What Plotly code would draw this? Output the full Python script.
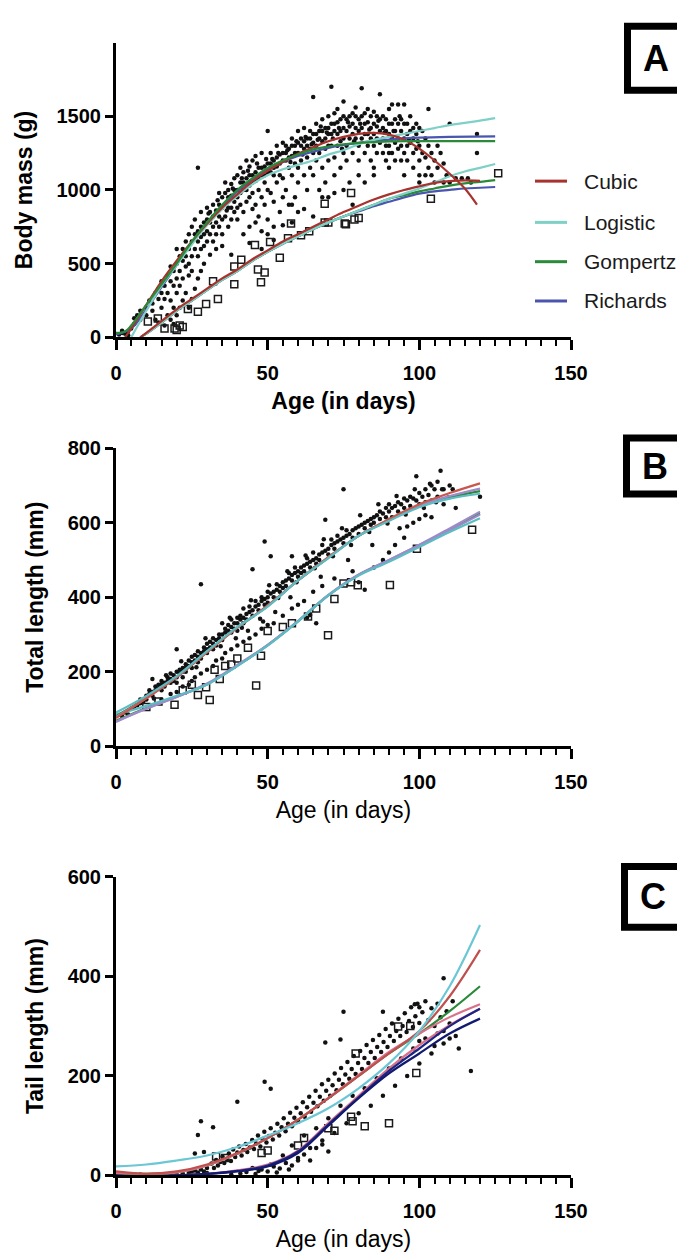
import plotly.graph_objects as go

# ------------------------------------------------------------------ data
# Panel A : body mass (g)
A_dots = [(1,20),(2,30),(3,25),(4,40),(5,60),(2,45),(4,15),(6,90),(6,130),(7,150),(8,120),(8,180),
(10,200),(10,150),(11,250),(12,230),(12,180),(13,300),(13,120),(14,260),(14,330),(15,300),(15,380),(15,200),
(16,350),(16,260),(17,420),(17,300),(18,380),(18,250),(18,480),(19,450),(19,350),(19,200),(20,500),(20,400),(20,600),(20,300),(21,450),(21,350),(21,550),
(22,520),(22,600),(22,400),(23,480),(23,650),(23,550),(24,600),(24,500),(24,700),(24,420),(25,650),(25,550),(25,750),(25,450),
(26,700),(26,600),(26,800),(27,650),(27,720),(27,550),(27,1150),(28,750),(28,680),(28,600),(28,850),(29,700),(29,780),(29,620),(30,800),(30,720),(30,650),(30,880),
(31,780),(31,700),(31,850),(32,820),(32,750),(32,900),(32,650),(33,860),(33,780),(33,700),(34,900),(34,820),(34,750),(34,980),(35,880),(35,800),(35,950),(35,700),
(36,900),(36,980),(36,820),(36,1050),(37,950),(37,880),(37,1000),(37,750),(38,960),(38,1040),(38,880),(38,800),(39,1000),(39,920),(39,1080),(39,850),(40,1000),(40,950),(40,1100),(40,880),(40,800),
(41,1050),(41,980),(41,1150),(41,900),(42,1050),(42,1000),(42,1120),(42,850),(43,1080),(43,1000),(43,1200),(43,920),(44,1100),(44,1030),(44,1160),(44,950),(44,750),(45,1100),(45,1050),(45,1200),(45,980),(45,870),
(46,1120),(46,1060),(46,1230),(46,900),(47,1150),(47,1080),(47,1000),(47,820),(48,1150),(48,1100),(48,1250),(48,950),(48,720),(49,1160),(49,1100),(49,1050),(49,900),(50,1180),(50,1120),(50,1400),(50,1000),(50,800),(50,700),
(51,1180),(51,1120),(51,1250),(51,980),(52,1200),(52,1150),(52,1100),(52,920),(52,750),(53,1220),(53,1160),(53,1300),(53,1050),(54,1240),(54,1180),(54,1100),(54,850),(55,1250),(55,1200),(55,1320),(55,1080),(55,950),
(56,1250),(56,1200),(56,1300),(56,1000),(57,1280),(57,1220),(57,1150),(57,900),(58,1300),(58,1230),(58,1350),(58,1100),(58,780),(59,1300),(59,1250),(59,1180),(59,950),(60,1320),(60,1250),(60,1400),(60,1150),(60,1050),(60,850),
(61,1300),(61,1350),(61,1200),(62,1330),(62,1280),(62,1420),(62,1100),(63,1350),(63,1300),(63,1220),(63,1000),(64,1350),(64,1400),(64,1280),(64,1150),(65,1380),(65,1320),(65,1630),(65,1250),(65,1100),
(66,1380),(66,1300),(66,1450),(66,1200),(67,1400),(67,1350),(67,1250),(67,1000),(68,1400),(68,1330),(68,1480),(68,1150),(69,1420),(69,1350),(69,1280),(69,1050),(70,1420),(70,1380),(70,1500),(70,1300),(70,1200),(70,950),
(71,1450),(71,1380),(71,1700),(71,1300),(72,1450),(72,1400),(72,1520),(72,1220),(72,1100),(73,1460),(73,1380),(73,1300),(73,1550),(74,1480),(74,1400),(74,1330),(74,1150),(75,1500),(75,1420),(75,1350),(75,1600),(75,1250),
(76,1480),(76,1400),(76,1300),(76,1200),(77,1500),(77,1430),(77,1350),(77,1050),(78,1520),(78,1450),(78,1380),(78,1250),(79,1500),(79,1420),(79,1350),(79,1560),(80,1480),(80,1400),(80,1300),(80,1200),(80,1100),
(81,1500),(81,1420),(81,1350),(81,1690),(82,1520),(82,1450),(82,1380),(82,1250),(83,1550),(83,1460),(83,1380),(83,1300),(84,1500),(84,1420),(84,1350),(84,1200),(85,1530),(85,1450),(85,1380),(85,1300),(85,1150),
(86,1500),(86,1430),(86,1350),(86,1250),(87,1480),(87,1400),(87,1320),(87,1650),(88,1500),(88,1420),(88,1350),(88,1250),(89,1480),(89,1400),(89,1300),(89,1200),(90,1550),(90,1450),(90,1380),(90,1300),(90,1250),
(91,1580),(91,1450),(91,1350),(91,1250),(92,1480),(92,1400),(92,1320),(92,1200),(93,1580),(93,1450),(93,1350),(93,1280),(94,1480),(94,1400),(94,1300),(94,1200),(95,1580),(95,1450),(95,1350),(95,1250),
(96,1450),(96,1380),(96,1300),(96,1200),(97,1500),(97,1400),(97,1320),(98,1420),(98,1350),(98,1250),(98,1150),(99,1450),(99,1380),(99,1280),(100,1420),(100,1300),(100,1200),(100,1100),
(101,1400),(101,1250),(102,1350),(102,1220),(102,1100),(103,1550),(103,1300),(103,1150),(104,1250),(104,1100),(105,1200),(105,1050),(106,1300),(106,1150),(107,1250),(108,1180),(108,1050),(109,1100),(110,1450),(110,1050),
(112,1080),(114,1080),(116,1080),(117,1050),(119,1250),(119,1380),
(14,100),(16,80),(17,150),(18,120),(19,90),(20,150),(21,200),(22,250),(23,300),(24,200),(25,260),(26,330),(27,400),(28,450),(29,500),(31,560),(33,600),(35,620),(38,560),(42,700),(44,640),(46,780),(48,600),(52,660),(55,760),(58,900),(62,870),(65,820),(68,950),(72,980),(75,1000),(78,900),(82,1050),(85,1100),(90,1150),(95,1100),(100,1050),
(30.5,840),(33.5,930),(36.5,860),(38.5,1010),(41.5,1080),(43.5,1130),(46.5,1180),(49.5,1210),(51.5,1210),(53.5,1250),(56.5,1270),(59.5,1330),(62.5,1360),(64.5,1310),(67.5,1430),(69.5,1390),
(71.5,1350),(73.5,1420),(76.5,1460),(78.5,1330),(80.5,1450),(83.5,1410),(86.5,1470),(88.5,1390),(91.5,1400),(93.5,1500),(96.5,1340),(99.5,1330),(57.5,1190),(61.5,1240),(66.5,1340),(74.5,1280)]

A_squares = [(10.5,107),(13.8,127),(16,60),(19.3,60),(21,80),(20,50),(22,70),(23.7,193),(27,173),(29.7,227),(33.6,260),(32,380),
(39,360),(39,480),(41.3,527),(45.8,627),(46.8,460),(49,440),(47.8,373),(50.8,647),(54,540),(56.7,673),(57.7,773),(61,693),
(63.7,720),(68.8,907),(68.8,780),(70,780),(75.4,773),(75.8,767),(77.5,980),(78.6,800),(80,810),(103.8,940),(126,1113)]

# fitted curves, panel A (upper group: filled dots, lower group: open squares)
A_cubic1_x = [3,5,10,15,20,25,30,35,40,45,50,55,60,65,70,75,80,85,90,95,100,105,110,115,119]
A_cubic1_y = [0,60,220,380,520,650,770,880,970,1060,1130,1190,1245,1290,1330,1360,1380,1387,1375,1340,1280,1200,1110,1010,900]
A_logis1_x = [5,10,15,20,25,30,35,40,45,50,55,60,65,70,75,80,85,90,95,100,105,110,115,120,125]
A_logis1_y = [0,180,350,490,630,760,870,960,1040,1100,1140,1170,1200,1240,1270,1310,1340,1360,1380,1400,1420,1440,1455,1470,1487]
A_gomp1_x = [0,3,5,10,15,20,25,30,35,40,45,50,55,60,65,70,75,80,85,90,100,110,125]
A_gomp1_y = [30,40,80,220,360,500,650,780,900,1000,1080,1150,1200,1240,1275,1295,1310,1320,1325,1330,1331,1331,1331]
A_rich1_x = [0,5,10,15,20,25,30,35,40,45,50,55,60,65,70,75,80,85,90,95,100,110,125]
A_rich1_y = [20,60,190,340,490,640,770,890,990,1070,1140,1190,1230,1260,1285,1305,1320,1333,1342,1350,1355,1360,1364]
A_cubic2_x = [8,10,15,20,25,30,35,40,45,50,55,60,65,70,75,80,85,90,95,100,105,110,115,120]
A_cubic2_y = [0,30,110,190,260,330,400,460,530,590,650,700,750,800,850,893,935,970,1000,1025,1048,1060,1065,1062]
A_fit2_x = [8,10,15,20,25,30,35,40,45,50,55,60,65,70,75,80,85,90,95,100,105,110,115,120,125]
A_logis2_y = [0,25,100,180,250,320,390,450,520,580,635,685,735,780,820,860,900,940,975,1010,1050,1093,1125,1150,1176]
A_gomp2_y = [0,25,100,180,250,320,390,450,520,580,635,685,735,780,820,860,900,940,965,990,1010,1030,1045,1055,1067]
A_rich2_y = [0,25,100,180,250,320,390,450,520,580,635,685,735,780,820,855,890,920,950,975,990,1000,1010,1015,1020]

# Panel B : total length (mm)
B_dots = [(2,80),(3,90),(4,85),(5,100),(6,105),(7,110),(8,115),(8,125),(9,120),(10,135),(10,125),(11,140),(11,150),(12,145),(12,135),(12,180),
(13,150),(13,160),(14,155),(14,165),(15,165),(15,150),(15,175),(16,170),(16,160),(17,175),(17,185),(18,180),(18,170),(18,195),(19,190),(19,175),
(20,185),(20,200),(20,260),(20,170),(21,195),(21,205),(22,200),(22,210),(22,185),(23,210),(23,220),(23,200),(24,215),(24,230),(25,225),(25,240),(25,210),
(26,230),(26,245),(27,240),(27,225),(27,255),(28,250),(28,435),(28,235),(29,255),(29,265),(30,260),(30,250),(30,275),(31,265),(31,280),(32,275),(32,260),(32,290),
(33,285),(33,270),(34,290),(34,300),(35,300),(35,285),(35,330),(36,305),(36,315),(37,310),(37,325),(38,320),(38,305),(38,340),(39,330),(39,315),(40,330),(40,345),(40,310),
(41,340),(41,350),(42,345),(42,330),(42,370),(43,355),(43,340),(44,360),(44,375),(45,365),(45,475),(45,350),(46,375),(46,390),(47,380),(47,365),(48,390),(48,400),
(49,395),(49,550),(49,380),(50,400),(50,385),(50,415),(51,410),(51,510),(52,415),(52,400),(53,420),(53,435),(54,430),(54,415),(55,440),(55,425),(56,445),(56,430),
(57,450),(57,465),(58,460),(58,510),(58,445),(59,465),(59,480),(60,470),(60,455),(61,480),(61,465),(62,485),(62,470),(63,490),(63,505),(64,495),(64,480),
(65,500),(65,520),(66,505),(66,490),(67,515),(67,500),(68,520),(68,540),(69,525),(69,608),(70,530),(70,515),(71,540),(71,555),(72,545),(72,530),(73,550),(73,565),
(74,555),(75,560),(75,690),(75,545),(76,565),(76,580),(77,570),(78,580),(78,560),(79,585),(80,590),(80,570),(81,595),(82,600),(82,585),(83,605),(84,610),(84,595),
(85,615),(85,600),(86,620),(87,610),(87,630),(88,625),(89,615),(89,640),(90,630),(90,650),(91,640),(91,615),(92,645),(93,655),(93,630),(94,650),(95,665),(95,640),
(96,660),(97,670),(97,645),(98,665),(99,725),(99,660),(100,680),(100,650),(101,670),(102,690),(102,655),(103,675),(104,700),(104,660),(105,690),(106,670),(106,710),
(107,740),(108,690),(108,650),(110,700),(112,640),(120,670),
(15,125),(18,140),(20,145),(22,160),(24,165),(25,175),(26,185),(28,195),(30,205),(32,215),(33,230),(35,235),(36,250),(38,260),(40,270),(42,280),(44,290),
(46,300),(48,315),(50,325),(52,330),(55,350),(58,370),(60,380),(62,390),(65,415),(68,430),(72,450),(78,470),(80,440),(82,420),(85,480),(88,500),(90,520),
(92,540),(95,560),(96,590),(98,600),(100,610),(102,620),(104,615),(63,345),(64,352),(66,330),
(12.5,128),(16.5,190),(21.5,228),(26.5,212),(29.5,290),(34.5,268),(37.5,345),(41.5,318),(44.5,392),(47.5,342),(50.5,432),(53.5,398),(56.5,470),(59.5,440),
(62.5,512),(65.5,478),(68.5,556),(71.5,510),(74.5,585),(77.5,540),(80.5,620),(83.5,575),(86.5,650),(89.5,598),(92.5,672),(95.5,622),(98.5,690),(101.5,640),
(103.5,705),(105.5,655),(107.5,690),(109.5,668),(111,690),(43.5,310),(52.5,360),(57.5,400),(67.5,455),(76.5,500),(84.5,540),(93.5,585),(39.5,290),(48.5,335)]

B_squares = [(10,105),(14,120),(19.3,111),(22,150),(25,165),(27,137),(30.9,124),(29.7,158),(32.5,205),(34.2,180),(36,215),(38,219),(40,235),
(43.5,264),(46.2,163),(47.8,243),(50,309),(55,320),(58,330),(63.3,348),(66,370),(69.9,298),(72,395),(75,437),(77.5,440),(79.7,432),
(90.3,433),(99.2,530),(117.4,581)]

B_x = [0,10,20,30,40,50,60,70,80,90,100,110,120]
B_cubic1 = [75,128,185,252,318,378,445,508,565,610,650,680,706]
B_logis1 = [90,135,188,255,320,375,445,505,565,605,642,665,678]
B_gomp1 = [80,130,185,253,318,376,445,506,565,607,645,668,685]
B_rich1 = [78,129,185,253,318,377,445,507,565,608,647,672,692]
B_cubic2 = [65,100,132,168,218,272,336,405,460,500,540,580,622]
B_logis2 = [85,108,135,165,215,270,335,405,458,495,535,575,612]
B_gomp2 = [68,102,133,166,216,271,335,405,460,498,538,580,625]
B_rich2 = [66,101,132,166,216,271,336,406,461,500,541,585,630]

# Panel C : tail length (mm)
C_dots = [(2,3),(4,2),(6,1),(8,2),(10,0),(12,1),(14,2),(16,1),(18,3),(20,2),(22,4),(24,5),(25,8),(26,10),(27,6),(28,12),(29,8),(30,15),(30,5),
(27,81),(28,109),(32,97),(40,148),(49,188),(51,174),(69,267),(74,273),(75,329),(26,44),(29,47),(88,329),(108,396),(117,210),(113,255),(98.5,344),(100,338),
(31.5,24),(32.3,15),(33.0,31),(33.6,20),(34.4,27),(35.1,38),(35.7,25),(36.5,33),(37.2,44),(37.9,29),(38.6,52),(39.3,37),(40.0,46),(40.6,58),(41.4,40),
(42.0,51),(42.8,63),(43.3,47),(44.1,56),(44.9,71),(45.5,53),(46.2,64),(46.8,80),(47.6,58),(48.3,73),(48.9,88),(49.6,66),(50.4,79),(51.0,95),(51.7,72),
(52.5,86),(53.2,104),(53.8,80),(54.6,97),(55.3,115),(55.9,89),(56.7,104),(57.4,126),(58.0,99),(58.8,116),(59.5,136),(60.1,108),(60.9,125),(61.6,147),
(62.2,118),(63.0,137),(63.7,158),(64.3,128),(65.1,146),(65.8,170),(66.4,139),(67.2,158),(67.9,183),(68.5,150),(69.3,170),(70.0,192),(70.6,160),(71.4,181),
(72.1,205),(72.7,171),(73.5,192),(74.2,216),(74.8,183),(75.6,203),(76.3,228),(76.9,194),(77.7,214),(78.4,240),(79.0,204),(79.8,226),(80.5,250),(81.1,214),
(81.9,236),(82.6,262),(83.2,226),(84.0,248),(84.7,272),(85.3,236),(86.1,258),(86.8,282),(87.4,248),(88.2,268),(88.9,294),(89.5,258),(90.3,280),(91.0,305),
(91.6,270),(92.4,290),(93.1,315),(93.7,280),(94.5,300),(95.2,326),(95.8,288),(96.6,310),(97.3,338),(97.9,298),(98.7,320),(99.4,345),(100,306),(101,328),
(102,350),(103,312),(104,336),(105,300),(106,345),(107,318),(108,290),(109,330),(110,305),(111,350),(112,280),
(55,40),(58,60),(60,30),(62,80),(64,55),(66,95),(68,70),(70,115),(72,85),(74,140),(76,105),(78,160),(80,125),(82,175),(84,140),(86,195),(88,160),(90,215),
(92,180),(94,235),(96,200),(98,255),(100,225),(102,275),(104,245),(106,285),(108,265),(110,275),(105,260),(100,270),
(38,2),(41,4),(43,7),(46,3),(48,12),(50,8),(52,18),(54,14),(56,25),(58,20),(60,35),(62,42),(64,30),(66,55),(68,62),(70,48),(45,15),(47,9),(51,22),(53,6),(57,12)]

C_squares = [(33,38),(36,35),(48,45),(50,50),(60,60),(62,75),(70,95),(72,90),(77.5,118),(78,109),(79,245),(82,99),(90,105),(93,299),(97,300),(99,206)]

C_x = [0,10,20,30,40,50,60,70,80,90,100,110,120]
C_logis1 = [18,22,30,40,57,80,105,135,175,225,290,380,503]
C_cubic1 = [8,3,8,22,45,75,112,155,200,245,290,360,453]
C_gomp1 = [5,3,6,20,44,75,112,155,200,245,285,330,380]
C_rich1 = [5,3,6,20,44,75,112,156,202,248,285,318,344]
C_cubic2 = [5,1,0,3,10,22,50,105,160,215,262,302,335]
C_gomp2 = [0,0,0,3,9,20,48,102,157,210,255,300,335]
C_rich2 = [0,0,0,3,8,18,45,100,155,205,245,285,315]

legend_names = ["Cubic", "Logistic", "Gompertz", "Richards"]
legend_colors = ["#a8322d", "#7fd0c6", "#2a8a3a", "#4a55b0"]

# ------------------------------------------------------------------ layout helpers
W, H = 685, 1259
ML, MR = 108, 122
PW = W - ML - MR
FONT = "Liberation Sans, Arial, sans-serif"

def fx(px):
    return (px - ML) / PW

def fy(py):
    return 1 - py / H

RED, TEAL, GREEN, BLUE = legend_colors
PURPLE = "#9d8bc9"
PINK = "#d9718a"
NAVY = "#1c2585"
CYAN = "#6cc7d4"

fig = go.Figure()

def add_points(pts, ax, sym):
    xs = [p[0] for p in pts]
    ys = [p[1] for p in pts]
    if sym == "dot":
        mk = dict(size=4.5, color="#111111")
    else:
        mk = dict(size=7, symbol="square-open", color="#1a1a1a", line=dict(width=1.5, color="#1a1a1a"))
    fig.add_trace(go.Scatter(x=xs, y=ys, mode="markers", marker=mk, xaxis="x" + ax, yaxis="y" + ax,
                             showlegend=False, cliponaxis=False, hoverinfo="skip"))

def add_line(xs, ys, ax, color, width=2.2):
    fig.add_trace(go.Scatter(x=xs, y=ys, mode="lines", line=dict(color=color, width=width, shape="spline"),
                             xaxis="x" + ax, yaxis="y" + ax, showlegend=False, hoverinfo="skip"))

# Panel A
add_points(A_dots, "", "dot")
add_points(A_squares, "", "sq")
add_line(A_fit2_x, A_rich2_y, "", BLUE)
add_line(A_fit2_x, A_gomp2_y, "", GREEN)
add_line(A_fit2_x, A_logis2_y, "", TEAL)
add_line(A_cubic2_x, A_cubic2_y, "", RED)
add_line(A_rich1_x, A_rich1_y, "", BLUE)
add_line(A_logis1_x, A_logis1_y, "", TEAL)
add_line(A_cubic1_x, A_cubic1_y, "", RED)
add_line(A_gomp1_x, A_gomp1_y, "", GREEN)

# Panel B
add_points(B_dots, "2", "dot")
add_points(B_squares, "2", "sq")
add_line(B_x, B_gomp2, "2", GREEN)
add_line(B_x, B_rich2, "2", PURPLE)
add_line(B_x, B_cubic2, "2", PURPLE)
add_line(B_x, B_logis2, "2", "#5cbcc2")
add_line(B_x, B_gomp1, "2", GREEN)
add_line(B_x, B_rich1, "2", PURPLE)
add_line(B_x, B_cubic1, "2", "#c9574c")
add_line(B_x, B_logis1, "2", "#5cbcc2")

# Panel C
add_points(C_dots, "3", "dot")
add_points(C_squares, "3", "sq")
add_line(C_x, C_cubic2, "3", PINK)
add_line(C_x, C_gomp2, "3", NAVY)
add_line(C_x, C_rich2, "3", "#121a70")
add_line(C_x, C_gomp1, "3", GREEN)
add_line(C_x, C_rich1, "3", PINK)
add_line(C_x, C_cubic1, "3", "#c0504d")
add_line(C_x, C_logis1, "3", CYAN)

# panel geometry (pixels): y-axis top / bottom
panels = {"": (24, 324), "2": (437, 740), "3": (873, 1177)}
yranges = {"": [0, 2000], "2": [0, 800], "3": [0, 600]}
yticks = {"": [0, 500, 1000, 1500], "2": [0, 200, 400, 600, 800], "3": [0, 200, 400, 600]}
ytitles = {"": "Body mass (g)", "2": "Total length (mm)", "3": "Tail length (mm)"}
xbold = {"": "bold", "2": "normal", "3": "normal"}

layout = dict(width=W, height=H, margin=dict(l=ML, r=MR, t=0, b=0),
              paper_bgcolor="white", plot_bgcolor="white", showlegend=False,
              font=dict(family=FONT, color="black"))

for ax, (top, bot) in panels.items():
    layout["xaxis" + ax] = dict(
        domain=[0, 1], anchor="y" + ax, range=[0, 150], tick0=0, dtick=50,
        ticks="outside", ticklen=10, tickwidth=2.5, tickcolor="black",
        showline=True, linewidth=3, linecolor="black", showgrid=False, zeroline=False,
        minor=dict(dtick=5, ticks="outside", ticklen=6, tickwidth=2, tickcolor="black", showgrid=False),
        tickfont=dict(family=FONT, size=20, color="black", weight="bold"),
        ticklabelstandoff=6,
        title=dict(text="Age (in days)", standoff=10,
                   font=dict(family=FONT, size=23, color="black", weight=xbold[ax])))
    layout["yaxis" + ax] = dict(
        domain=[fy(bot), fy(top)], anchor="x" + ax, range=yranges[ax],
        tickmode="array", tickvals=yticks[ax],
        ticks="outside", ticklen=8, tickwidth=2.5, tickcolor="black",
        showline=True, linewidth=3, linecolor="black", showgrid=False, zeroline=False,
        tickfont=dict(family=FONT, size=20, color="black", weight="bold"),
        title=dict(text=ytitles[ax], standoff=18,
                   font=dict(family=FONT, size=23, color="black", weight="bold")))

shapes = []
annotations = []

# panel letter boxes (outer pixel bounds)
boxes = [("A", 616, 680, 4, 76), ("B", 615, 679, 423, 487), ("C", 613, 677, 859, 928)]
for letter, x0, x1, y0, y1 in boxes:
    shapes.append(dict(type="rect", xref="paper", yref="paper",
                       x0=fx(x0 + 3.5), x1=fx(x1 - 3.5), y0=fy(y1 - 3.5), y1=fy(y0 + 3.5),
                       line=dict(color="black", width=7), fillcolor="white"))
    annotations.append(dict(xref="paper", yref="paper", x=fx((x0 + x1) / 2), y=fy((y0 + y1) / 2),
                            text=letter, showarrow=False, xanchor="center", yanchor="middle",
                            font=dict(family=FONT, size=36, color="black", weight="bold")))

# legend in panel A
leg_y = [165, 207, 247, 287]
for name, col, py in zip(legend_names, legend_colors, leg_y):
    shapes.append(dict(type="line", xref="paper", yref="paper", x0=fx(527), x1=fx(559),
                       y0=fy(py), y1=fy(py), line=dict(color=col, width=3)))
    annotations.append(dict(xref="paper", yref="paper", x=fx(574), y=fy(py), text=name,
                            showarrow=False, xanchor="left", yanchor="middle",
                            font=dict(family=FONT, size=21, color="#1a1a1a")))

layout["shapes"] = shapes
layout["annotations"] = annotations
fig.update_layout(**layout)
fig.write_html("out.html")
